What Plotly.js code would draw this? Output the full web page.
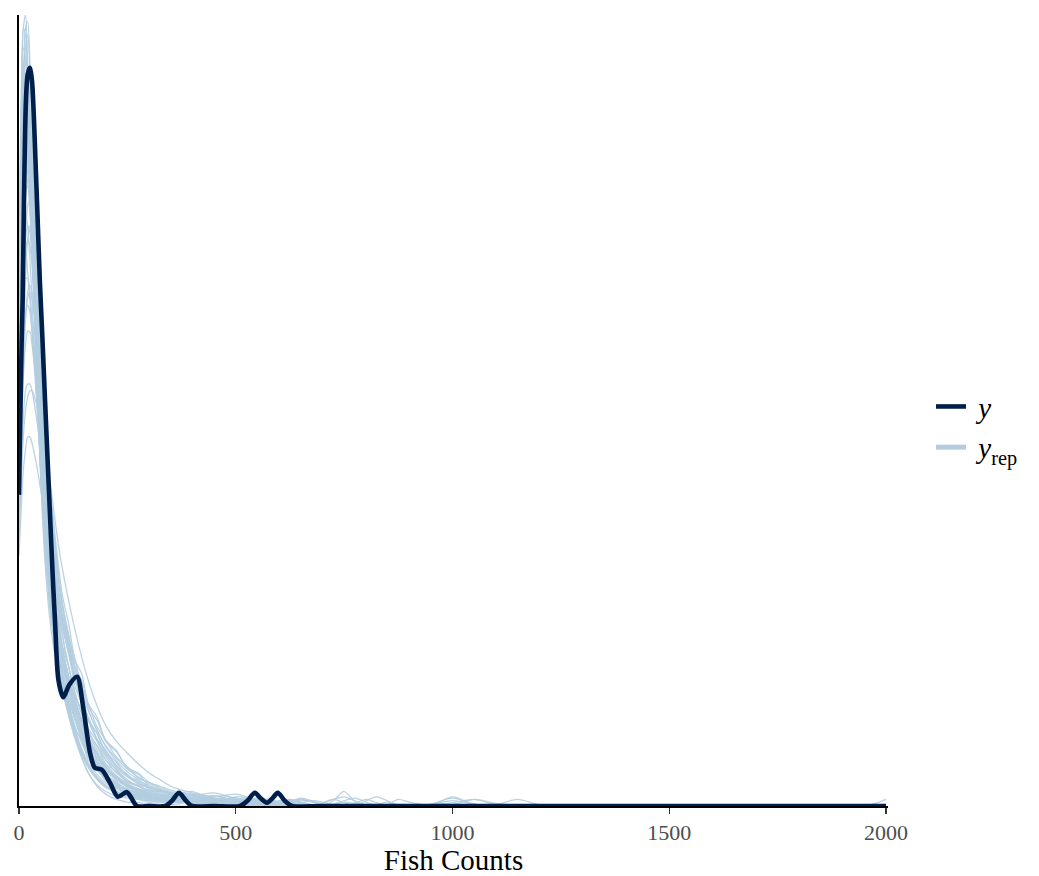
<!DOCTYPE html>
<html>
<head>
<meta charset="utf-8">
<script src="https://cdn.plot.ly/plotly-3.0.1.min.js"></script>
<style>html,body{margin:0;padding:0;background:#fff;}#chart{width:1039px;height:876px;}</style>
</head>
<body>
<div id="chart"></div>
<script>
// x grid (Fish Counts) on which the replicated densities were read
const gridX = [0,5,10,15,20,25,30,40,50,60,70,80,90,100,115,130,145,160,180,200,225,250,275,300,
  325,350,375,400,425,450,475,500,525,550,575,600,625,650,675,700,725,750,775,800,825,850,875,900,
  950,1000,1050,1100,1150,1200,1250,1300,1950,2000];

// observed y density (x, density x 1e-3)
const yX = [0,3,6,8.5,11.5,16,20,25,30,34,38,43,48,54,60,67,74,79,83,91,102,116,134,148,164,175,191,210,228,249,
  272,300,337,353,369,385,399,450,510,527,544,557,572,585,597,613,630,700,2000];
const yDens = [4.72,5.9,7.0,7.7,9.2,10.7,11.1,11.2,11.0,10.5,9.8,8.9,7.98,7.1,6.16,5.1,4.04,3.32,2.82,1.91,1.65,1.84,1.96,1.50,0.80,0.58,0.55,0.35,0.14,0.21,
  0,0,0,0.08,0.20,0.08,0,0,0,0.08,0.20,0.12,0.05,0.12,0.20,0.08,0,0,0];

// replicated densities (yrep) on gridX
const rep01 = [6.2,10.0,11.8,12.0,11.3,10.3,9.2,7.2,5.5,4.3,3.4,2.8,2.3,1.95,1.5,1.15,0.85,0.62,0.42,0.3,0.22,0.15,0.12,0.1, 0.08,0.1,0.07,0.03,0.02,0,0.05,0.12,0.05,0,0];
const rep02 = [5.5,8.6,10.6,11.5,11.7,11.2,10.3,8.0,6.0,4.6,3.6,2.9,2.4,2.0,1.55,1.2,0.95,0.75,0.55,0.4,0.28,0.2,0.15,0.12, 0.1,0.08,0.1,0.12,0.08,0.04,0.02,0,0,0,0,0,0,0,0,0.05,0.1,0.05,0];
const rep03 = [7.0,9.6,10.8,11.0,10.6,9.8,8.9,7.0,5.4,4.2,3.3,2.7,2.25,1.9,1.45,1.05,0.75,0.5,0.32,0.22,0.15,0.12,0.1,0.06, 0.03,0.02,0.04,0.08,0.06,0.03,0, 0,0,0,0,0,0,0,0,0,0,0,0,0,0,0,0,0, 0,0.14,0.02,0];
const rep04 = [5.0,7.6,9.3,10.3,10.6,10.3,9.6,7.8,6.2,5.0,4.0,3.3,2.8,2.4,1.95,1.6,1.3,1.05,0.8,0.6,0.42,0.3,0.22,0.16, 0.12,0.1,0.12,0.1,0.06,0.03,0.04,0.08,0.1,0.08,0.04,0.02,0];
const rep05 = [4.6,6.6,8.2,9.3,9.9,10.0,9.7,8.6,7.2,5.9,4.8,3.9,3.3,2.9,2.5,1.9,1.75,1.3,1.1,0.8,0.62,0.45,0.36,0.26, 0.2,0.16,0.14,0.15,0.12,0.08,0.05,0.04,0.06,0.05,0.02,0,0,0,0,0,0.08,0.22,0.06,0];
const rep06 = [6.0,7.8,8.9,9.3,9.4,9.1,8.5,7.2,5.9,4.8,3.9,3.2,2.7,2.3,1.85,1.5,1.2,0.95,0.7,0.5,0.35,0.26,0.2,0.15, 0.12,0.14,0.1,0.06,0.04,0.06,0.05,0.03,0.02,0.04,0.06,0.04,0.02,0,0,0,0,0,0,0.08,0.14,0.08,0];
const rep07 = [4.2,5.8,7.1,8.0,8.6,8.8,8.7,8.0,7.0,6.0,5.0,4.2,3.5,3.0,2.5,2.1,1.75,1.45,1.15,0.92,0.72,0.56,0.44,0.34, 0.26,0.2,0.15,0.12,0.1,0.09,0.08,0.1,0.08,0.05,0.03,0.04,0.06,0.04,0.02,0, 0,0,0,0,0,0,0,0, 0,0.02,0.1,0.02,0];
const rep08 = [5.6,6.8,7.6,8.0,8.0,7.8,7.4,6.5,5.6,4.8,4.1,3.5,3.0,2.6,2.1,1.7,1.4,1.15,0.9,0.7,0.5,0.38,0.3,0.24, 0.18,0.14,0.12,0.1,0.08,0.06,0.08,0.06,0.04,0.02,0,0,0.06,0.12,0.08,0.02,0];
const rep09 = [4.8,5.8,6.5,7.0,7.2,7.2,7.0,6.4,5.7,5.0,4.3,3.7,3.2,2.8,2.3,1.9,1.55,1.3,1.0,0.78,0.58,0.44,0.34,0.28, 0.22,0.18,0.15,0.12,0.1,0.12,0.1,0.07,0.04,0.02,0.03,0.06,0.05,0.03,0, 0,0,0,0,0,0,0,0,0, 0,0,0,0.02,0.1,0.02,0];
const rep10 = [3.8,4.5,5.1,5.4,5.6,5.6,5.5,5.2,4.8,4.4,4.0,3.6,3.25,2.9,2.45,2.05,1.72,1.45,1.15,0.9,0.68,0.52,0.4,0.3, 0.24,0.2,0.18,0.16,0.12,0.08,0.06,0.05,0.06,0.08,0.06,0.03,0];
const rep11 = [6.8,9.4,10.8,11.3,11.2,10.4,9.3,7.0,5.0,3.7,2.9,2.4,2.05,1.75,1.35,1.0,0.72,0.5,0.3,0.18,0.1,0.06,0.05,0.04, 0.02,0,0,0,0,0,0,0,0,0.04,0.1,0.06,0.02,0];
const rep12 = [7.6,9.3,10.1,10.2,9.8,9.1,8.3,6.8,5.6,4.6,3.8,3.15,2.65,2.25,1.8,1.45,1.15,0.9,0.65,0.46,0.32,0.22,0.16,0.12, 0.1,0.12,0.16,0.12,0.06,0.03,0.02,0.04,0.02,0, 0,0,0,0,0,0,0,0,0,0,0,0,0,0, 0.03,0.12,0.03,0];
const rep13 = [5.2,7.3,8.8,9.6,9.8,9.5,8.9,7.4,6.0,4.9,4.0,3.3,2.75,2.35,1.95,1.5,1.3,0.95,0.8,0.52,0.42,0.28,0.24,0.16, 0.14,0.1,0.08,0.1,0.14,0.12,0.06,0.03,0.02,0.02,0.04,0.02,0,0,0,0,0.02,0.06,0.04,0];
const rep14 = [4.4,6.6,8.6,10.0,10.8,11.0,10.6,8.8,6.8,5.2,4.0,3.2,2.6,2.2,1.75,1.4,1.1,0.85,0.6,0.42,0.28,0.2,0.16,0.14, 0.12,0.09,0.06,0.08,0.1,0.08,0.1,0.12,0.08,0.04,0.02,0, 0,0,0,0,0,0,0,0,0, 0.02,0.1,0.06,0];
const rep15 = [8.0,8.3,8.4,8.4,8.1,7.7,7.2,6.2,5.3,4.5,3.8,3.25,2.8,2.4,1.95,1.6,1.3,1.05,0.8,0.6,0.44,0.32,0.24,0.18, 0.14,0.12,0.1,0.08,0.06,0.05,0.04,0.05,0.07,0.1,0.08,0.04,0.02,0];
const rep16 = [4.0,5.4,6.6,7.4,7.8,7.9,7.8,7.3,6.6,5.8,5.0,4.3,3.7,3.2,2.75,2.2,2.0,1.55,1.35,1.0,0.84,0.56,0.48,0.31, 0.24,0.18,0.14,0.12,0.14,0.16,0.12,0.07,0.04,0.03,0.02,0.03,0.05,0.04,0.02,0];
const rep17 = [8.4,10.7,11.5,11.3,10.5,9.5,8.5,6.6,5.1,4.0,3.2,2.6,2.15,1.8,1.4,1.08,0.82,0.62,0.44,0.32,0.22,0.16,0.12,0.08, 0.06,0.05,0.06,0.05,0.03,0.02,0];
const rep18 = [4.3,5.2,5.9,6.3,6.4,6.4,6.3,5.9,5.4,4.8,4.2,3.7,3.2,2.8,2.35,1.95,1.6,1.3,1.0,0.75,0.55,0.4,0.3,0.22, 0.16,0.12,0.1,0.1,0.08,0.06,0.04,0.06,0.08,0.06,0.03,0, 0,0,0,0,0,0,0,0, 0.02,0.06,0.02,0];
const rep19 = [5.8,8.0,9.5,10.2,10.4,10.0,9.2,7.5,5.9,4.6,3.6,2.9,2.4,2.05,1.65,1.3,1.0,0.78,0.56,0.4,0.28,0.2,0.15,0.12, 0.1,0.08,0.06,0.04,0.02,0.02,0.03,0.02, 0,0,0,0,0,0,0,0,0,0, 0,0,0,0,0,0,0,0,0,0, 0,0,0,0,0, 0.1];
const rep20 = [6.6,8.2,8.9,9.0,8.8,8.3,7.7,6.3,5.1,4.1,3.35,2.8,2.35,2.0,1.6,1.3,1.05,0.84,0.62,0.45,0.32,0.24,0.18,0.14, 0.1,0.08,0.07,0.06,0.08,0.07,0.04,0.02,0, 0,0,0,0,0,0,0,0,0, 0.04,0.1,0.05,0];
const rep21 = [5.0,8.4,10.8,11.8,11.9,11.3,10.3,7.9,5.8,4.4,3.5,2.9,2.45,2.1,1.75,1.3,1.1,0.75,0.6,0.4,0.32,0.2,0.18,0.12, 0.12,0.1,0.08,0.06,0.08,0.1,0.08,0.05,0.03,0.02,0.04,0.08,0.1,0.06,0.02,0];
const rep22 = [6.4,8.6,10.1,10.8,10.9,10.5,9.8,8.1,6.5,5.2,4.2,3.45,2.95,2.45,2.1,1.65,1.45,1.1,0.92,0.64,0.52,0.36,0.32,0.23, 0.22,0.2,0.16,0.12,0.1,0.08,0.1,0.14,0.12,0.07,0.03,0.02,0.04,0.03,0];
const rep23 = [4.9,6.9,8.3,9.2,9.5,9.6,9.3,8.2,6.9,5.7,4.6,3.75,3.1,2.6,2.1,1.7,1.38,1.12,0.85,0.64,0.46,0.34,0.26,0.2, 0.16,0.14,0.16,0.18,0.14,0.08,0.04,0.02,0.02,0.05,0.08,0.05,0.02, 0,0,0,0,0,0,0,0,0,0,0, 0.02,0.08,0.03,0];
const rep24 = [7.2,9.5,10.4,10.5,10.1,9.4,8.6,6.9,5.4,4.3,3.4,2.75,2.25,1.85,1.4,1.05,0.78,0.58,0.4,0.28,0.2,0.14,0.1,0.08, 0.06,0.08,0.12,0.1,0.05,0.02,0];
const rep25 = [5.2,6.8,7.9,8.4,8.6,8.5,8.2,7.4,6.5,5.6,4.8,4.1,3.5,3.05,2.6,2.1,1.9,1.5,1.3,0.98,0.82,0.58,0.5,0.36, 0.3,0.24,0.2,0.18,0.16,0.12,0.1,0.08,0.1,0.12,0.1,0.06,0.04,0.05,0.08,0.06,0.02,0];
const rep26 = [6.6,9.8,11.2,11.4,11.0,10.1,9.0,6.9,5.2,4.0,3.2,2.65,2.2,1.85,1.45,1.12,0.86,0.66,0.48,0.35,0.25,0.18,0.14,0.12, 0.12,0.14,0.1,0.05,0.03,0.02,0.02,0.04,0.02,0,0,0,0,0,0,0,0.03,0.08,0.12,0.06,0];
const rep27 = [5.0,6.2,7.0,7.5,7.6,7.5,7.2,6.5,5.7,4.9,4.2,3.6,3.1,2.7,2.3,1.8,1.55,1.18,0.98,0.7,0.55,0.36,0.3,0.21, 0.18,0.16,0.14,0.1,0.06,0.04,0.06,0.1,0.12,0.08,0.03,0];
const rep28 = [6.0,8.0,9.3,9.9,10.0,9.7,9.1,7.6,6.1,4.9,3.95,3.2,2.65,2.25,1.8,1.45,1.15,0.9,0.66,0.48,0.34,0.25,0.19,0.15, 0.12,0.1,0.08,0.07,0.06,0.06,0.08,0.1,0.07,0.03,0.01,0,0,0,0,0.04,0.1,0.14,0.08,0.02,0];
const rep29 = [7.5,10.6,11.8,11.7,10.9,9.8,8.7,6.7,5.0,3.9,3.1,2.55,2.1,1.78,1.38,1.06,0.8,0.6,0.42,0.3,0.21,0.16,0.13,0.11, 0.1,0.08,0.06,0.05,0.06,0.08,0.06,0.03,0.01,0];
const rep30 = [4.0,4.9,5.6,6.0,6.2,6.3,6.3,6.1,5.8,5.4,5.0,4.5,4.0,3.6,3.1,2.65,2.25,1.9,1.52,1.22,0.98,0.8,0.64,0.5, 0.4,0.3,0.24,0.2,0.16,0.14,0.16,0.18,0.14,0.09,0.05,0.04,0.06,0.09,0.07,0.03,0];
const rep31 = [5.4,7.9,9.6,10.5,10.7,10.4,9.7,7.9,6.2,4.8,3.8,3.05,2.6,2.2,1.85,1.45,1.25,0.95,0.78,0.55,0.45,0.3,0.26,0.18, 0.15,0.12,0.1,0.12,0.14,0.1,0.05,0.02,0];
const rep32 = [6.9,9.0,10.0,10.3,10.0,9.4,8.6,7.0,5.6,4.5,3.7,3.1,2.7,2.3,1.9,1.6,1.25,1.05,0.74,0.6,0.4,0.32,0.22,0.17, 0.12,0.09,0.1,0.12,0.1,0.06,0.04,0.03,0.05,0.08,0.06,0.02,0];
const rep33 = [4.5,6.3,7.7,8.6,9.1,9.2,9.0,8.1,7.0,5.9,4.9,4.05,3.35,2.85,2.4,1.95,1.65,1.32,1.1,0.82,0.66,0.46,0.38,0.28, 0.22,0.18,0.2,0.22,0.16,0.1,0.06,0.05,0.07,0.06,0.03,0.02,0.04,0.02,0];
const rep34 = [7.8,9.9,10.7,10.8,10.3,9.5,8.6,6.7,5.1,3.95,3.1,2.55,2.15,1.85,1.55,1.15,1.0,0.7,0.58,0.38,0.3,0.18,0.15,0.1, 0.08,0.06,0.05,0.06,0.04,0.02, 0,0,0,0,0,0,0,0,0,0,0,0,0,0,0,0,0,0, 0.02,0.05,0.1,0.04,0];
const rep35 = [5.6,7.0,8.0,8.6,8.8,8.7,8.4,7.5,6.5,5.5,4.6,3.85,3.25,2.8,2.3,1.95,1.55,1.35,1.02,0.85,0.6,0.48,0.34,0.28, 0.24,0.2,0.15,0.1,0.08,0.1,0.14,0.12,0.06,0.03,0.02,0.02,0.05,0.1,0.07,0.02,0];
const rep36 = [6.1,8.9,10.4,11.1,11.1,10.6,9.7,7.6,5.7,4.3,3.35,2.7,2.3,2.0,1.6,1.3,1.0,0.8,0.55,0.42,0.28,0.22,0.16,0.14, 0.14,0.16,0.12,0.07,0.04,0.02,0.03,0.06,0.08,0.05,0.02,0];
const rep37 = [4.7,5.9,6.8,7.4,7.7,7.8,7.7,7.2,6.5,5.7,4.9,4.2,3.6,3.1,2.55,2.2,1.8,1.55,1.2,1.0,0.74,0.6,0.42,0.36, 0.28,0.22,0.18,0.16,0.18,0.2,0.16,0.1,0.05,0.03,0.02,0.04,0.08,0.1,0.06,0.02,0];
const rep38 = [6.3,8.3,9.5,10.0,10.0,9.6,8.9,7.3,5.8,4.6,3.7,3.0,2.55,2.15,1.75,1.35,1.12,0.85,0.66,0.46,0.36,0.24,0.2,0.14, 0.1,0.08,0.07,0.05,0.06,0.1,0.12,0.08,0.03,0.01,0];
const rep39 = [5.3,7.6,9.1,9.9,10.2,10.0,9.4,7.8,6.3,5.0,4.0,3.25,2.75,2.35,1.9,1.55,1.28,1.0,0.8,0.58,0.44,0.32,0.26,0.2, 0.16,0.13,0.12,0.14,0.12,0.08,0.05,0.03,0.02,0.02,0.03,0.06,0.09,0.06,0.02,0];
const rep40 = [7.1,8.7,9.5,9.8,9.6,9.1,8.5,7.1,5.8,4.7,3.85,3.2,2.7,2.3,1.9,1.5,1.25,0.98,0.72,0.55,0.38,0.3,0.2,0.16, 0.12,0.1,0.12,0.1,0.06,0.04,0.05,0.04,0.02,0];

const reps = [rep01,rep02,rep03,rep04,rep05,rep06,rep07,rep08,rep09,rep10,rep11,rep12,rep13,rep14,rep15,
  rep16,rep17,rep18,rep19,rep20,rep21,rep22,rep23,rep24,rep25,rep26,rep27,rep28,rep29,rep30,
  rep31,rep32,rep33,rep34,rep35,rep36,rep37,rep38,rep39,rep40];
const tickVals = [0,500,1000,1500,2000];
const tickText = ['0','500','1000','1500','2000'];

const DARK = '#011f4b', LIGHT = '#b3cde0';
const SERIF = '"Liberation Serif", "Times New Roman", serif';

const traces = [];
reps.forEach(function (r) {
  traces.push({
    x: gridX.slice(0, r.length), y: r, type: 'scatter', mode: 'lines',
    line: {color: LIGHT, width: 1.25, shape: 'spline', smoothing: 0.8},
    opacity: 0.9, showlegend: false, hoverinfo: 'skip'
  });
});
// legend key for yrep
traces.push({x: [null], y: [null], type: 'scatter', mode: 'lines',
  line: {color: LIGHT, width: 5}, name: '\u00a0<i>y</i><sub>rep</sub>', legendrank: 2});
traces.push({
  x: yX, y: yDens, type: 'scatter', mode: 'lines',
  line: {color: DARK, width: 4.6, shape: 'spline', smoothing: 0.8},
  name: '\u00a0<i>y</i>', legendrank: 1
});

const layout = {
  width: 1039, height: 876,
  margin: {l: 19, r: 151, t: 15, b: 70},
  paper_bgcolor: '#ffffff', plot_bgcolor: '#ffffff',
  showlegend: true,
  legend: {x: 1.0495, xanchor: 'left', y: 0.479, yanchor: 'middle',
    font: {family: SERIF, size: 29, color: '#000'}, bgcolor: 'rgba(0,0,0,0)', tracegroupgap: 0},
  xaxis: {
    range: [0, 2004.6], tickvals: tickVals, ticktext: tickText,
    ticks: 'outside', ticklen: 6, tickwidth: 1.2, tickcolor: '#333333',
    showline: true, linecolor: '#000', linewidth: 2, showgrid: false, zeroline: false,
    tickfont: {family: SERIF, size: 22, color: '#4d4d4d'},
    title: {text: 'Fish Counts', font: {family: SERIF, size: 29, color: '#000'}, standoff: 4},
    automargin: false
  },
  yaxis: {
    range: [0, 12], showticklabels: false, ticks: '',
    showline: true, linecolor: '#000', linewidth: 2, showgrid: false, zeroline: false,
    automargin: false
  }
};

Plotly.newPlot('chart', traces, layout, {displayModeBar: false, staticPlot: true});
</script>
</body>
</html>
